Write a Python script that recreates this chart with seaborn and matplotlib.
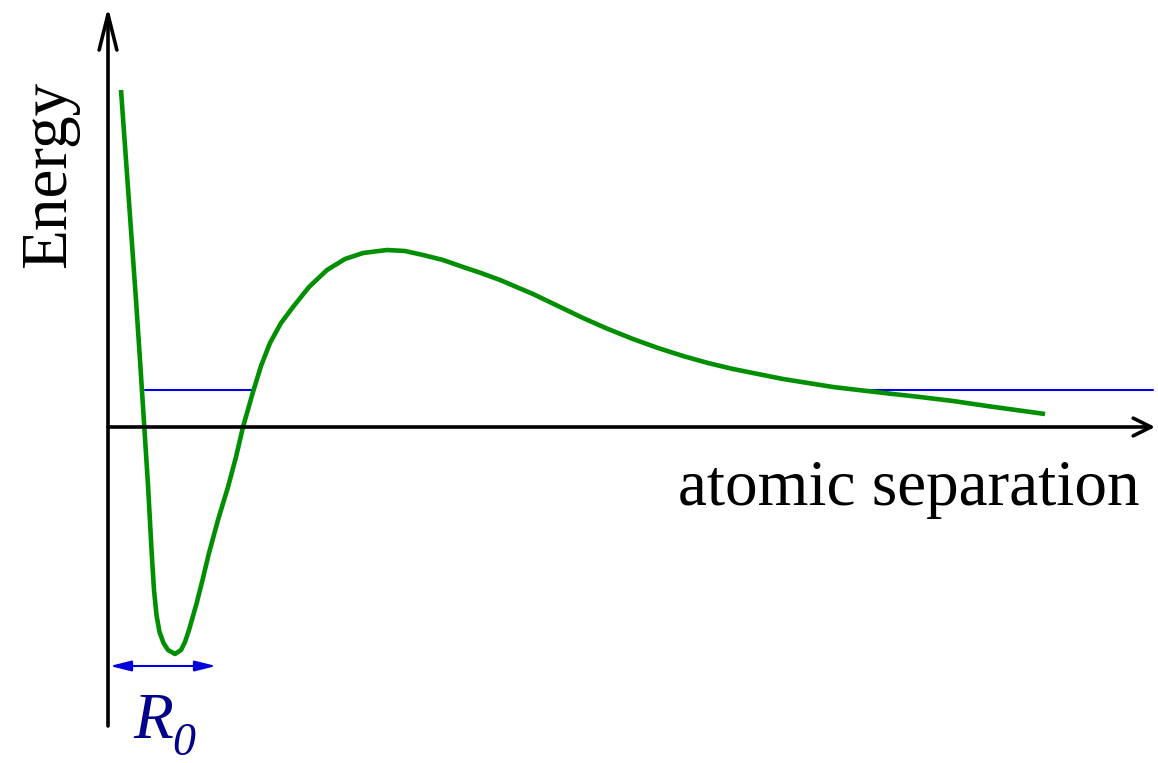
import pandas as pd
import seaborn as sns
import matplotlib.pyplot as plt

# curva de energia potencial (separacion, energia), leida de la figura
# unidades arbitrarias: origen en el cruce de los ejes
separacion = [13, 18, 23, 28, 32, 36.3, 40, 43.7, 46, 48.5,
              51.5, 55.5, 60, 67, 73, 77, 81, 88.7, 95, 101,
              110, 120, 128, 135, 145, 153, 162, 173, 185, 201,
              219, 237, 255, 279, 297, 315, 335, 355, 373, 392,
              425, 450, 475, 500, 525, 550, 575, 600, 625, 650,
              675, 700, 725, 759, 785, 812, 845, 879, 908, 937]
energia = [337, 267, 197, 127, 67, 0, -58, -126, -163, -188,
           -205, -216, -223, -227, -223, -215, -203, -176, -151, -126,
           -93, -60, -30, 0, 35, 61, 84, 104, 120, 140,
           157, 168, 174, 177, 176, 172, 167, 160, 154, 147,
           133, 121, 109, 98, 88, 79, 71, 64, 58, 53,
           48, 44, 40, 36, 33, 30, 26, 21, 17, 13]

# nivel de energia (tramos azules)
nivel = 37
tramo_izq = [37, 145]
tramo_der = [758, 1045]

# flecha R0
r0_y = -239
r0_x = [2, 108]

df = pd.DataFrame({'separacion': separacion, 'energia': energia})

sns.set_theme(style='white')
plt.rcParams['font.family'] = ['Liberation Serif', 'DejaVu Serif']

fig = plt.figure(figsize=(11.58, 7.63), dpi=100)
ax = fig.add_axes([0, 0, 1, 1])

# ejes con flechas
ax.annotate('', xy=(1047, 0), xytext=(0, 0),
            arrowprops=dict(arrowstyle='->,head_length=0.4,head_width=0.2',
                            lw=2.6, color='black', mutation_scale=32,
                            shrinkA=0, shrinkB=0))
ax.annotate('', xy=(0, 420), xytext=(0, -299),
            arrowprops=dict(arrowstyle='->,head_length=0.8,head_width=0.2',
                            lw=2.6, color='black', mutation_scale=32,
                            shrinkA=0, shrinkB=0))

# nivel de energia
ax.plot(tramo_izq, [nivel, nivel], color='#0000ee', lw=1.5)
ax.plot(tramo_der, [nivel, nivel], color='#0000ee', lw=1.5)

# curva
sns.lineplot(data=df, x='separacion', y='energia', sort=False, ax=ax,
             color='#008f00', lw=3.3, solid_joinstyle='round', solid_capstyle='butt')
ax.set_xlim(-108, 1050)
ax.set_ylim(-336, 427)
ax.axis('off')

# R0
ax.annotate('', xy=(r0_x[1], r0_y), xytext=(r0_x[0], r0_y),
            arrowprops=dict(arrowstyle='<|-|>,head_length=0.4,head_width=0.1',
                            lw=1.5, color='#0000dd', mutation_scale=32,
                            shrinkA=0, shrinkB=0))
ax.text(25, -311, 'R', fontsize=47, style='italic', color='#00008b',
        ha='left', va='baseline')
ax.text(64, -328, '0', fontsize=33, style='italic', color='#00008b',
        ha='left', va='baseline')

# etiquetas
ax.text(1032, -78, 'atomic separation', fontsize=47, color='black',
        ha='right', va='baseline')
ax.text(-43, 253, 'Energy', fontsize=47, color='black', rotation=90,
        rotation_mode='anchor', ha='center', va='baseline')

fig.savefig('out.png', dpi=100)
